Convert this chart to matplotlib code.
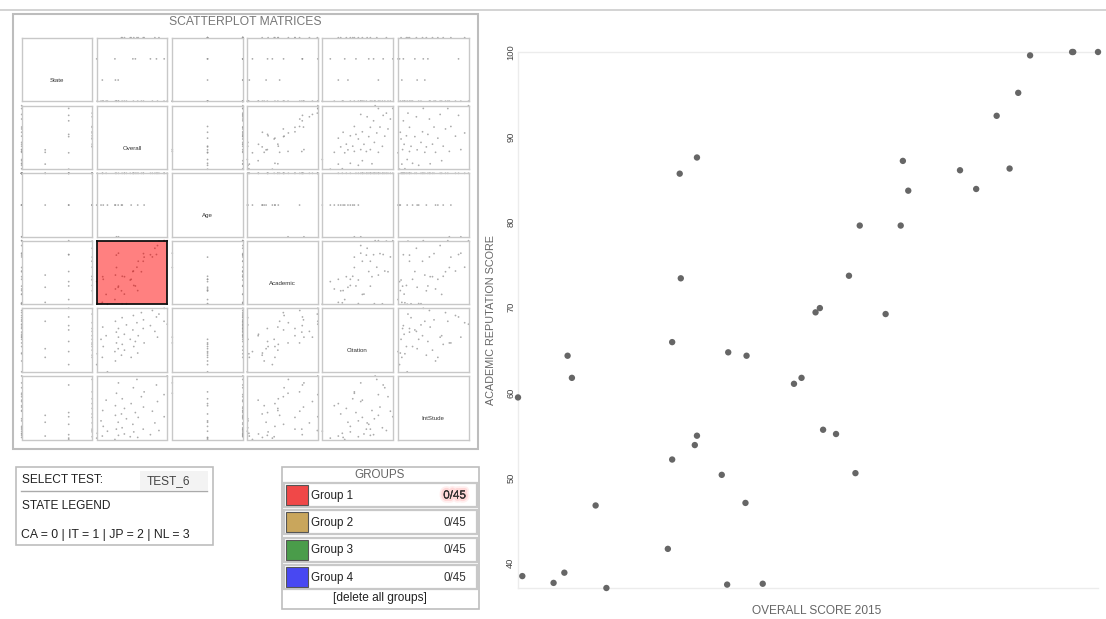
import matplotlib
matplotlib.use("Agg")
import matplotlib.pyplot as plt
import matplotlib.patheffects as pe
from matplotlib.patches import Rectangle
import numpy as np

plt.rcParams['font.family'] = ['Liberation Sans', 'DejaVu Sans']

# ---------------- data (45 universities, one hidden by overlap) ----------------
overall = np.array([46.1, 46.5, 49.4, 50.4, 50.7, 51.1, 53.3, 54.3, 60.0, 60.4, 60.4,
                    61.1, 61.2, 62.5, 62.7, 62.7, 65.0, 65.5, 65.6, 67.2, 67.3, 68.8,
                    71.7, 72.4, 73.7, 74.1, 74.4, 75.6, 76.8, 77.4, 77.8, 80.2, 81.6,
                    81.8, 82.3, 87.1, 88.6, 90.5, 91.7, 92.5, 93.6, 97.5, 97.6, 99.9])
academic = np.array([59.4, 38.4, 37.6, 38.8, 64.3, 61.7, 46.7, 37.0, 41.6, 65.9, 52.1,
                     85.7, 73.4, 53.8, 54.9, 87.6, 50.3, 37.4, 64.7, 47.0, 64.3, 37.5,
                     61.0, 61.7, 69.4, 69.9, 55.6, 55.1, 73.7, 50.5, 79.6, 69.2, 79.6,
                     87.2, 83.7, 86.1, 83.9, 92.5, 86.3, 95.2, 99.6, 100.0, 100.0, 100.0])
state = np.array([2, 0, 0, 1, 0, 0, 0, 0, 2, 1, 0, 0, 0, 1, 0, 0, 3, 0, 3, 0, 3, 0,
                  3, 3, 2, 0, 3, 2, 3, 0, 3, 0, 3, 0, 3, 2, 0, 3, 2, 0, 3, 0, 2, 0])
age = np.array([2, 3, 2, 3, 3, 2, 3, 2, 2, 3, 2, 3, 1, 2, 3, 1, 2, 3, 2, 3, 3, 3,
                3, 2, 3, 3, 3, 3, 3, 2, 3, 3, 3, 3, 2, 3, 3, 3, 3, 3, 3, 3, 3, 3])
citation = np.array([20, 35, 55, 30, 72, 45, 60, 10, 38, 80, 25, 65, 50, 42, 70, 58, 33,
                     85, 48, 62, 40, 75, 55, 30, 68, 88, 45, 52, 78, 36, 60, 92, 70, 82,
                     50, 74, 95, 66, 86, 58, 90, 80, 98, 76])
intstude = np.array([5, 12, 30, 8, 45, 22, 60, 15, 3, 38, 52, 18, 70, 28, 9, 85, 40, 20,
                     62, 11, 48, 33, 7, 55, 25, 78, 14, 42, 90, 6, 35, 65, 18, 50, 72,
                     10, 44, 27, 82, 58, 16, 68, 36, 95])

var_names = ["State", "Overall", "Age", "Academic", "Citation", "IntStude"]
var_data = [state, overall, age, academic, citation, intstude]

group_names = ["Group 1", "Group 2", "Group 3", "Group 4"]
group_counts = ["0/45", "0/45", "0/45", "0/45"]
group_colors = ["#f04848", "#c9a65c", "#4a9c4a", "#4848f2"]
state_legend = "CA = 0 | IT = 1 | JP = 2 | NL = 3"
selected_test = "TEST_6"
yticks = [40, 50, 60, 70, 80, 90, 100]

# ---------------- figure ----------------
W, H = 1106, 619
fig = plt.figure(figsize=(W / 100, H / 100), dpi=100)
fig.patch.set_facecolor("white")


def px_axes(x0, y0, w, h):
    return fig.add_axes([x0 / W, 1 - (y0 + h) / H, w / W, h / H])


bg = fig.add_axes([0, 0, 1, 1])
bg.set_xlim(0, W)
bg.set_ylim(H, 0)
bg.axis("off")

# top rule
bg.plot([0, W], [10, 10], color="#cccccc", lw=1.2)

# scatterplot matrix outer box + title
bg.add_patch(Rectangle((13, 14), 465, 435, fill=False, ec="#bdbdbd", lw=1.5))
bg.text(245, 22, "SCATTERPLOT MATRICES", ha="center", va="center",
        fontsize=8.7, color="#777777")

col_x = [21.7, 96.7, 172.3, 247.3, 322.3, 398.0]
row_y = [37.7, 105.7, 173.3, 240.7, 308.3, 376.0]
cw, ch = 70.5, 63.5

for i in range(6):
    for j in range(6):
        a = px_axes(col_x[j], row_y[i], cw, ch)
        a.set_xticks([])
        a.set_yticks([])
        highlight = (i == 3 and j == 1)
        for s in a.spines.values():
            s.set_color("#111111" if highlight else "#c8c8c8")
            s.set_linewidth(1.3 if highlight else 1.0)
        if highlight:
            a.set_facecolor("#ff8080")
        if i == j:
            a.set_xlim(0, 1)
            a.set_ylim(0, 1)
            a.text(0.5, 0.33, var_names[i], ha="center", va="center",
                   fontsize=4.4, color="#333333")
        else:
            xd, yd = var_data[j], var_data[i]
            a.scatter(xd, yd, s=1.6, color="#c04040" if highlight else "#8f8f8f",
                      alpha=0.75, edgecolors="none", clip_on=False)
            a.set_xlim(xd.min(), xd.max())
            a.set_ylim(yd.min(), yd.max())

# select test box
bg.add_patch(Rectangle((16, 467), 197, 78, fill=False, ec="#bdbdbd", lw=1.2))
bg.add_patch(Rectangle((140, 471), 68, 19, fc="#f3f3f3", ec="none"))
bg.plot([21, 207], [491, 491], color="#aaaaaa", lw=1.0)
bg.text(22, 480, "SELECT TEST:", ha="left", va="center", fontsize=8.6, color="#222222")
bg.text(147, 481, selected_test, ha="left", va="center", fontsize=8.6, color="#444444")
bg.text(22, 506, "STATE LEGEND", ha="left", va="center", fontsize=8.6, color="#222222")
bg.text(21, 535, state_legend, ha="left", va="center", fontsize=8.8, color="#222222")

# groups box
bg.add_patch(Rectangle((282, 467), 197, 142, fill=False, ec="#bdbdbd", lw=1.2))
bg.text(380, 475, "GROUPS", ha="center", va="center", fontsize=8.4, color="#666666")
for k, (gname, gcount, gcol) in enumerate(zip(group_names, group_counts, group_colors)):
    y0 = 483 + k * 27.4
    bg.add_patch(Rectangle((284, y0), 193, 24, fc="white", ec="#c8c8c8", lw=1.6))
    bg.add_patch(Rectangle((286, y0 + 2), 22, 20, fc=gcol, ec="#555555", lw=0.8))
    bg.text(311, y0 + 12.5, gname, ha="left", va="center", fontsize=8.4, color="#222222")
    t = bg.text(466, y0 + 12.5, gcount, ha="right", va="center", fontsize=8.4,
                color="#333333")
    if k == 0:
        t.set_path_effects([
            pe.withStroke(linewidth=6, foreground="#ff8080", alpha=0.12),
            pe.withStroke(linewidth=3.5, foreground="#ff7070", alpha=0.18),
            pe.Normal()])
bg.text(380, 598, "[delete all groups]", ha="center", va="center", fontsize=8.6,
        color="#222222")

# ---------------- main scatter ----------------
ax = px_axes(518, 52, 580, 536)
ax.scatter(overall, academic, s=21, color="#666666", edgecolors="none", clip_on=False,
           zorder=3)
ax.set_xlim(overall.min(), overall.max())
ax.set_ylim(academic.min(), academic.max())
ax.set_yticks(yticks)
ax.set_yticklabels([str(v) for v in yticks], rotation=90, va="center")
ax.tick_params(axis="y", length=0, pad=2, labelsize=6.7, labelcolor="#444444")
ax.set_xticks([])
for side in ["left", "top", "bottom"]:
    ax.spines[side].set_color("#ececec")
    ax.spines[side].set_linewidth(1.0)
ax.spines["right"].set_visible(False)
ax.set_ylabel("ACADEMIC REPUTATION SCORE", fontsize=7.8, color="#666666")
ax.yaxis.set_label_coords((496 - 518) / 580, 0.5)
ax.set_xlabel("OVERALL SCORE 2015", fontsize=8.6, color="#666666")
ax.xaxis.set_label_coords((817 - 518) / 580, -(605 - 588) / 536)

fig.savefig("out.png", dpi=100)
